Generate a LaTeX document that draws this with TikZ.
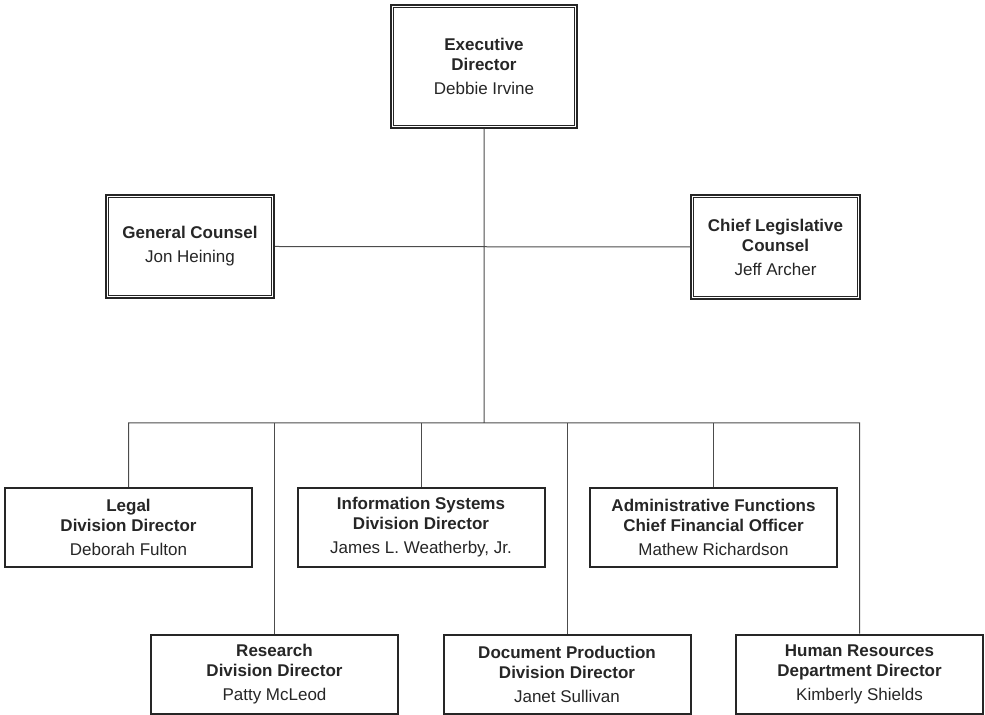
\documentclass[tikz,border=0pt]{standalone}
\usepackage{fontspec}
\setmainfont{Liberation Sans}
\usepackage{tikz}
\usetikzlibrary{positioning}

\begin{document}
\begin{tikzpicture}[x=0.5pt,y=-0.5pt,node distance=146.25pt,
                    font=\fontsize{8.5}{10}\selectfont]
  \tikzstyle{box}=[draw=black!85,line width=1pt,align=center,inner sep=0pt,
                   text=black!85,minimum width=123.5pt,minimum height=39.5pt]
  \tikzstyle{link}=[draw=black!70,line width=0.5pt]
  \useasboundingbox (0,0) rectangle (985,715);

  \node[box, minimum width=93pt, minimum height=61.5pt] (ED) at (484,66.5)
        {\textbf{Executive}\\\textbf{Director}\\[2pt]Debbie Irvine};
  \node[box, minimum width=84pt, minimum height=51.5pt] (GC) at (190,246.5)
        {\textbf{General Counsel}\\[2pt]Jon Heining};
  \node[box, minimum width=84.5pt, minimum height=52pt] (CL) at (775.5,247)
        {\textbf{Chief Legislative}\\\textbf{Counsel}\\[2pt]Jeff Archer};

  \node[box] (L) at (128.5,527.5)
        {\textbf{Legal}\\\textbf{Division Director}\\[2pt]Deborah Fulton};
  \node[box] (I) [right of=L]
        {\textbf{Information Systems}\\\textbf{Division Director}\\[2pt]James L. Weatherby, Jr.};
  \node[box] (A) [right of=I]
        {\textbf{Administrative Functions}\\\textbf{Chief Financial Officer}\\[2pt]Mathew Richardson};

  \node[box] (R) at (274.5,674)
        {\textbf{Research}\\\textbf{Division Director}\\[2pt]Patty McLeod};
  \node[box] (D) [right of=R]
        {\textbf{Document Production}\\\textbf{Division Director}\\[2pt]Janet Sullivan};
  \node[box] (H) [right of=D]
        {\textbf{Human Resources}\\\textbf{Department Director}\\[2pt]Kimberly Shields};

  % inner frame of the top boxes
  \foreach \n in {ED,GC,CL}
    \draw[black!85,line width=0.5pt] ([xshift=1.6pt,yshift=1.6pt]\n.south west)
      rectangle ([xshift=-1.6pt,yshift=-1.6pt]\n.north east);

  \coordinate (bus) at (484,423);
  \path[link] (ED.south) -- (bus)
              (GC.east) -- (CL.west)
              (L.north) -- (L.north |- bus) -- (H.north |- bus) -- (H.north);
  \foreach \n in {R,I,D,A}
    \path[link] (\n.north) -- (\n.north |- bus);
\end{tikzpicture}
\end{document}
